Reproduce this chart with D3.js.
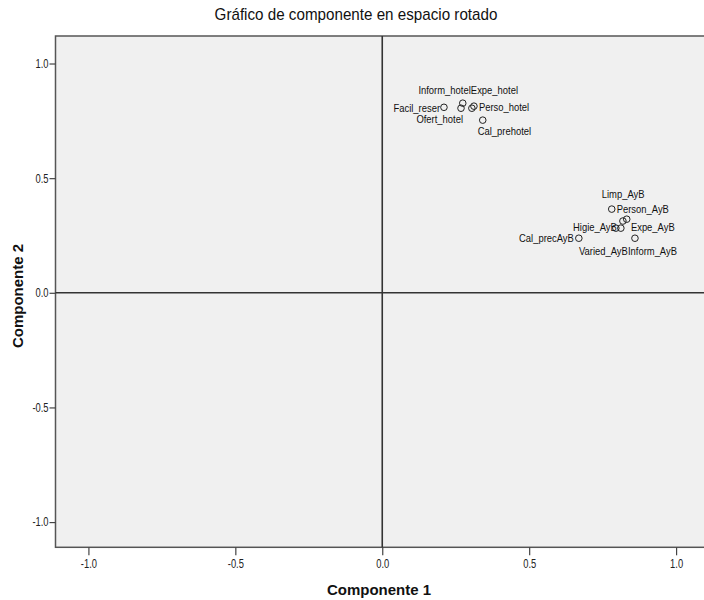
<!DOCTYPE html>
<html>
<head>
<meta charset="utf-8">
<script src="https://cdn.jsdelivr.net/npm/d3@7"></script>
<style>
  body { margin: 0; background: #fff; }
  svg text { font-family: "Liberation Sans", Arial, sans-serif; }
</style>
</head>
<body>
<svg width="704" height="600"></svg>
<script>
// component loadings (rotated space)
const variables = ["Facil_reser", "Inform_hotel", "Ofert_hotel", "Expe_hotel", "Perso_hotel", "Cal_prehotel",
    "Limp_AyB", "Person_AyB", "Higie_AyB", "Varied_AyB", "Expe_AyB", "Inform_AyB", "Cal_precAyB"];
const comp1 = [0.210, 0.274, 0.268, 0.305, 0.312, 0.342, 0.781, 0.832, 0.795, 0.812, 0.819, 0.860, 0.669];
const comp2 = [0.809, 0.827, 0.805, 0.805, 0.814, 0.753, 0.365, 0.321, 0.282, 0.282, 0.313, 0.238, 0.238];
const tickVals = [-1.0, -0.5, 0.0, 0.5, 1.0];

// label nudges (px) from each point, and text anchor
const labelDx = [-4, 8, 2, -1, 5, -5, -10, -10, 1, 7, 8, -7, -5];
const labelDy = [1, -13, 11, -18, 1, 11, -15, -10, -1, 23, 6, 13, 0];
const labelAnchor = ["end", "end", "end", "start", "start", "start", "start", "start", "end", "end", "start", "start", "end"];

const data = variables.map((v, i) => ({ name: v, x: comp1[i], y: comp2[i], dx: labelDx[i], dy: labelDy[i], anchor: labelAnchor[i] }));

const svg = d3.select("svg");
const plotL = 55.5, plotR = 709, plotT = 36, plotB = 547.3;

const x = d3.scaleLinear().domain([-1.112, 1.112]).range([plotL, plotR]);
const y = d3.scaleLinear().domain([-1.110, 1.120]).range([plotB, plotT]);

// narrow the glyphs horizontally (SPSS uses a condensed face)
function narrow(sel, k, origin) {
    sel.style("transform-box", "fill-box")
        .style("transform-origin", origin)
        .style("transform", `scaleX(${k})`);
}
const originFor = a => a === "end" ? "right center" : a === "start" ? "left center" : "center";

// plot background + frame
svg.append("rect")
    .attr("x", plotL).attr("y", plotT)
    .attr("width", plotR - plotL).attr("height", plotB - plotT)
    .attr("fill", "#f0f0f0")
    .attr("stroke", "#555")
    .attr("stroke-width", 1.5);

// axes
const fmt = d => d.toFixed(1);
const xAxis = svg.append("g")
    .attr("transform", `translate(0,${plotB})`)
    .call(d3.axisBottom(x).tickValues(tickVals).tickFormat(fmt).tickSize(8).tickPadding(4));
const yAxis = svg.append("g")
    .attr("transform", `translate(${plotL},0)`)
    .call(d3.axisLeft(y).tickValues(tickVals).tickFormat(fmt).tickSize(6).tickPadding(1));

[xAxis, yAxis].forEach(g => {
    g.select(".domain").remove();
    g.selectAll(".tick line").attr("stroke", "#444").attr("stroke-width", 1.2);
    g.selectAll(".tick text").attr("fill", "#222").style("font-size", "12px").style("font-family", "'Liberation Sans', Arial, sans-serif");
});
narrow(xAxis.selectAll(".tick text"), 0.78, "center");
narrow(yAxis.selectAll(".tick text"), 0.78, "right center");

// zero reference lines
svg.append("line")
    .attr("x1", x(0)).attr("x2", x(0))
    .attr("y1", plotT).attr("y2", plotB)
    .attr("stroke", "#333").attr("stroke-width", 1.6);
svg.append("line")
    .attr("x1", plotL).attr("x2", plotR)
    .attr("y1", y(0)).attr("y2", y(0))
    .attr("stroke", "#333").attr("stroke-width", 1.6);

// points
svg.selectAll(".pt")
    .data(data)
    .enter().append("circle")
    .attr("class", "pt")
    .attr("cx", d => x(d.x))
    .attr("cy", d => y(d.y))
    .attr("r", 3.3)
    .attr("fill", "none")
    .attr("stroke", "#222")
    .attr("stroke-width", 1);

// labels
svg.selectAll(".lbl")
    .data(data)
    .enter().append("text")
    .attr("class", "lbl")
    .attr("x", d => x(d.x) + d.dx)
    .attr("y", d => y(d.y) + d.dy)
    .attr("dy", "0.35em")
    .attr("text-anchor", d => d.anchor)
    .style("font-size", "11px")
    .attr("fill", "#111")
    .text(d => d.name)
    .each(function(d) { narrow(d3.select(this), 0.857, originFor(d.anchor)); });

// titles
const title = svg.append("text")
    .attr("x", 356).attr("y", 20)
    .attr("text-anchor", "middle")
    .style("font-size", "16px")
    .attr("fill", "#111")
    .text("Gráfico de componente en espacio rotado");
narrow(title, 0.95, "center");

svg.append("text")
    .attr("x", 379).attr("y", 595)
    .attr("text-anchor", "middle")
    .style("font-size", "15px")
    .style("font-weight", "bold")
    .attr("fill", "#111")
    .text("Componente 1");

svg.append("text")
    .attr("transform", `translate(23,296) rotate(-90)`)
    .attr("text-anchor", "middle")
    .style("font-size", "15px")
    .style("font-weight", "bold")
    .attr("fill", "#111")
    .text("Componente 2");
</script>
</body>
</html>
